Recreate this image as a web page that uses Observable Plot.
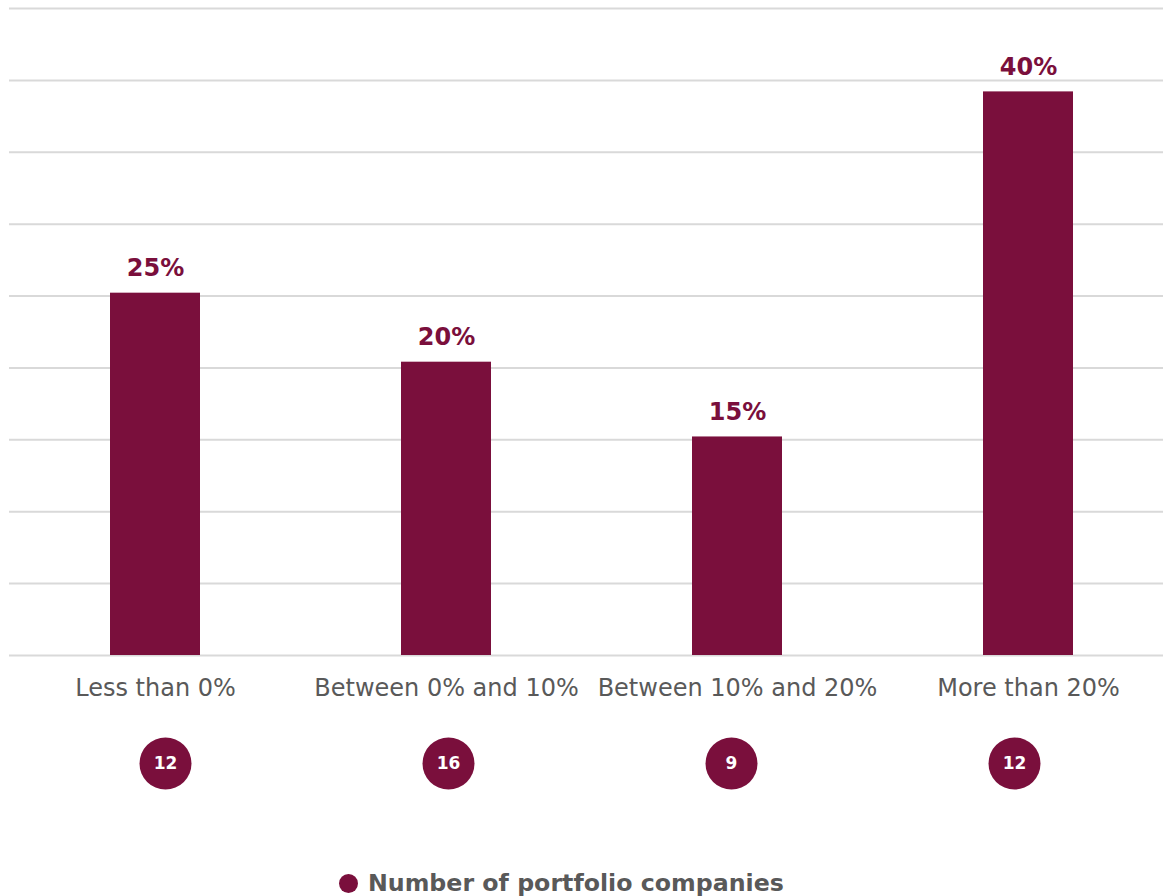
<!DOCTYPE html>
<html>
<head>
<meta charset="utf-8">
<script src="https://cdn.jsdelivr.net/npm/d3@7"></script>
<script src="https://cdn.jsdelivr.net/npm/@observablehq/plot@0.6"></script>
<style>
  html, body { margin: 0; padding: 0; background: #fff; }
  body { width: 1163px; height: 896px; overflow: hidden; font-family: "DejaVu Sans", Verdana, sans-serif; }
  #chart svg, #counts svg { display: block; overflow: visible; }
  #legend { height: 76px; position: relative; }
  #legend .item { position: absolute; left: 339px; top: 51px; display: flex; align-items: center; font-weight: bold; font-size: 23.7px; color: #595959; line-height: 24px; }
  #legend .dot { width: 19px; height: 19px; border-radius: 50%; background: #7a0f3c; margin-right: 10px; }
</style>
</head>
<body>
<div id="chart"></div>
<div id="counts"></div>
<div id="legend"><div class="item"><span class="dot"></span><span id="legendLabel"></span></div></div>
<script>
const categories = ["Less than 0%", "Between 0% and 10%", "Between 10% and 20%", "More than 20%"];
const shares = [25.2, 20.4, 15.2, 39.2];
const shareLabels = ["25%", "20%", "15%", "40%"];
const companyCounts = [12, 16, 9, 12];
const legendLabel = "Number of portfolio companies";
const yTicks = [0, 5, 10, 15, 20, 25, 30, 35, 40, 45];

const maroon = "#7a0f3c";
const grey = "#595959";

const data = categories.map((c, i) => ({category: c, share: shares[i], label: shareLabels[i], count: companyCounts[i]}));

const chart = Plot.plot({
  width: 1163,
  height: 720,
  marginTop: 8,
  marginBottom: 65,
  marginLeft: 9,
  marginRight: -12,
  style: {fontFamily: "DejaVu Sans, Verdana, sans-serif", background: "transparent", overflow: "visible"},
  x: {domain: categories, paddingInner: 0.69, paddingOuter: 0.345, label: null},
  y: {domain: [0, 45], axis: null},
  marks: [
    Plot.ruleY(yTicks, {stroke: "#d9d9d9", strokeWidth: 2}),
    Plot.barY(data, {x: "category", y: "share", fill: maroon}),
    Plot.text(data, {x: "category", y: "share", text: "label", fill: maroon, fontSize: 24, fontWeight: "bold", lineAnchor: "bottom", dy: -17}),
    Plot.axisX({tickSize: 0, tickPadding: 23, fontSize: 24, color: grey, label: null})
  ]
});
document.getElementById("chart").appendChild(chart);

const counts = Plot.plot({
  width: 1163,
  height: 100,
  marginTop: 0,
  marginBottom: 0,
  marginLeft: 22,
  marginRight: 7,
  style: {fontFamily: "DejaVu Sans, Verdana, sans-serif", background: "transparent", overflow: "visible"},
  x: {domain: categories, axis: null},
  marks: [
    Plot.dot(data, {x: "category", frameAnchor: "top", dy: 43, r: 26, fill: maroon}),
    Plot.text(data, {x: "category", frameAnchor: "top", lineAnchor: "middle", dy: 43, text: d => String(d.count), fill: "white", fontSize: 17, fontWeight: "bold"})
  ]
});
document.getElementById("counts").appendChild(counts);
document.getElementById("legendLabel").textContent = legendLabel;
</script>
</body>
</html>
